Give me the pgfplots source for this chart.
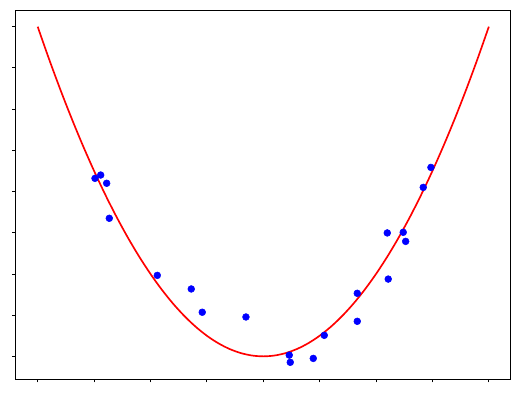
\documentclass[border=0pt]{standalone}
\usepackage{pgfplots}
\pgfplotsset{compat=1.18}
\begin{document}
\begin{tikzpicture}
\useasboundingbox (0,0) rectangle (390pt,295.5pt);
\begin{axis}[
  at={(11.6pt,11.25pt)}, anchor=south west,
  scale only axis, width=371.6pt, height=276.75pt,
  xmin=-4.394, xmax=4.392, ymin=-1.10, ymax=16.81,
  xtick={-4,-3,...,4}, ytick={0,2,...,16},
  xticklabels={}, yticklabels={},
  tick align=outside, xtick pos=bottom, ytick pos=left,
  major tick length=2.6pt,
  every tick/.style={black, line width=0.6pt},
  axis line style={line width=0.75pt},
  clip=false,
]
\addplot[red, line width=1.25pt, smooth] coordinates {
(-4,16) (-3.8,14.44) (-3.6,12.96) (-3.4,11.56) (-3.2,10.24) (-3,9) (-2.8,7.84) (-2.6,6.76) (-2.4,5.76) (-2.2,4.84) (-2,4) (-1.8,3.24) (-1.6,2.56) (-1.4,1.96) (-1.2,1.44) (-1,1) (-0.8,0.64) (-0.6,0.36) (-0.4,0.16) (-0.2,0.04) (0,0)
(0.2,0.04) (0.4,0.16) (0.6,0.36) (0.8,0.64) (1,1) (1.2,1.44) (1.4,1.96) (1.6,2.56) (1.8,3.24) (2,4) (2.2,4.84) (2.4,5.76) (2.6,6.76) (2.8,7.84) (3,9) (3.2,10.24) (3.4,11.56) (3.6,12.96) (3.8,14.44) (4,16)
};
\addplot[only marks, mark=*, mark size=2.55pt, mark options={draw=blue, fill=blue}] coordinates {
(-2.984,8.64) (-2.883,8.80) (-2.777,8.40) (-2.730,6.70) (-1.879,3.93) (-1.277,3.27) (-1.082,2.14) (-0.307,1.91) (0.461,0.06) (0.479,-0.29) (0.887,-0.10) (1.082,1.02) (1.667,3.06) (1.667,1.70) (2.199,5.99) (2.216,3.75) (2.482,6.02) (2.525,5.58) (2.837,8.20) (2.973,9.17)
};
\end{axis}
\end{tikzpicture}
\end{document}
